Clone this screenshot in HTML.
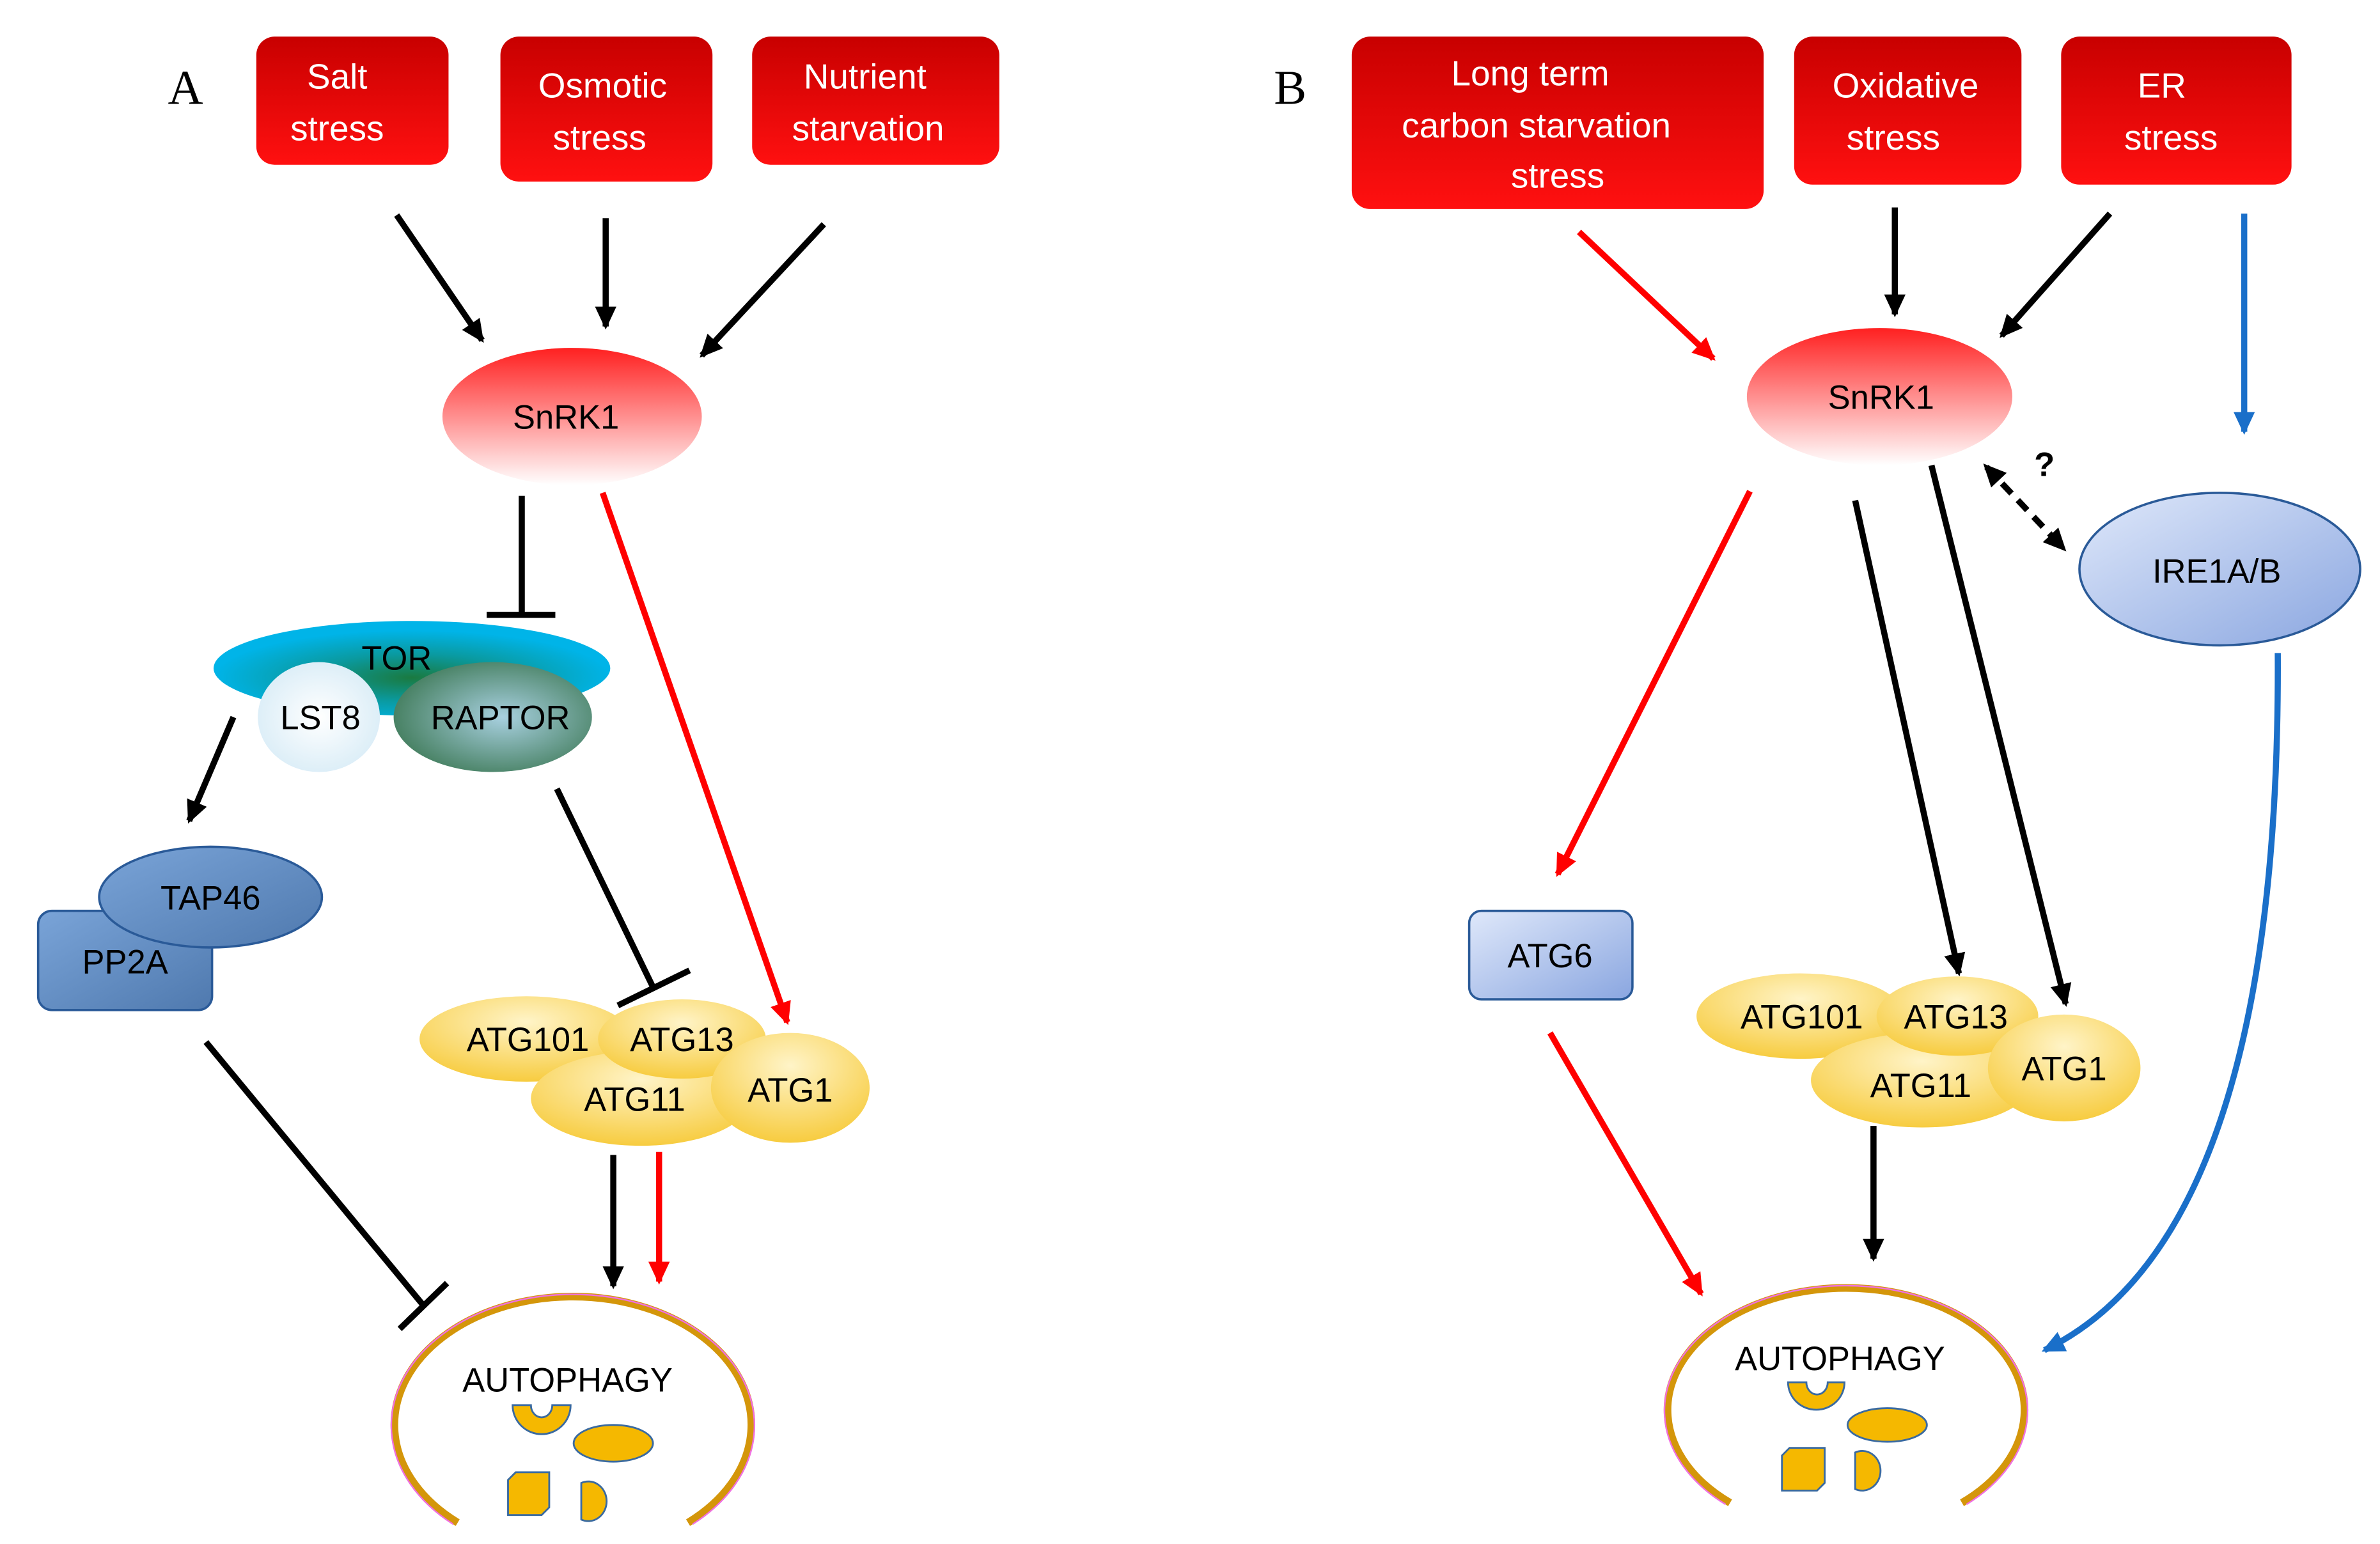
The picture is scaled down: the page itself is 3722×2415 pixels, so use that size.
<!DOCTYPE html>
<html><head><meta charset="utf-8"><style>html,body{margin:0;padding:0;background:#fff}svg{display:block}</style></head>
<body>
<svg width="3722" height="2415" viewBox="0 0 1560 1012" preserveAspectRatio="none" xmlns="http://www.w3.org/2000/svg" font-family="'Liberation Sans', 'DejaVu Sans', sans-serif">
<defs>
<linearGradient id="red" x1="0" y1="0" x2="0" y2="1"><stop offset="0" stop-color="#c80000"/><stop offset="1" stop-color="#ff1010"/></linearGradient>
<linearGradient id="snr" x1="0" y1="0" x2="0" y2="1"><stop offset="0" stop-color="#ff2020"/><stop offset="0.55" stop-color="#ff9a9a"/><stop offset="1" stop-color="#ffffff"/></linearGradient>
<radialGradient id="tor" cx="0.5" cy="0.6" r="0.5"><stop offset="0" stop-color="#1a7a40"/><stop offset="0.5" stop-color="#0a9aa0"/><stop offset="1" stop-color="#00b4e8"/></radialGradient>
<radialGradient id="lst" cx="0.5" cy="0.5" r="0.6"><stop offset="0" stop-color="#ffffff"/><stop offset="1" stop-color="#d6ebf6"/></radialGradient>
<radialGradient id="rap" cx="0.55" cy="0.5" r="0.6"><stop offset="0" stop-color="#a8d0e0"/><stop offset="1" stop-color="#3f7a58"/></radialGradient>
<linearGradient id="blue" x1="0" y1="0" x2="1" y2="1"><stop offset="0" stop-color="#7aa4d8"/><stop offset="1" stop-color="#4f79ae"/></linearGradient>
<radialGradient id="yel" cx="0.5" cy="0.3" r="0.7"><stop offset="0" stop-color="#fff4c8"/><stop offset="1" stop-color="#f7cc40"/></radialGradient>
<linearGradient id="lb" x1="0" y1="0" x2="1" y2="1"><stop offset="0" stop-color="#dfe8fa"/><stop offset="1" stop-color="#8aa6e0"/></linearGradient>
<marker id="ab" markerWidth="16" markerHeight="16" refX="13" refY="8" orient="auto" markerUnits="userSpaceOnUse"><path d="M0,1 L15,8 L0,15 Z" fill="#000"/></marker>
<marker id="ar" markerWidth="16" markerHeight="16" refX="13" refY="8" orient="auto" markerUnits="userSpaceOnUse"><path d="M0,1 L15,8 L0,15 Z" fill="#f00"/></marker>
<marker id="au" markerWidth="16" markerHeight="16" refX="13" refY="8" orient="auto" markerUnits="userSpaceOnUse"><path d="M0,1 L15,8 L0,15 Z" fill="#1a6fc9"/></marker>
<marker id="as" markerWidth="16" markerHeight="16" refX="3" refY="8" orient="auto" markerUnits="userSpaceOnUse"><path d="M15,1 L0,8 L15,15 Z" fill="#000"/></marker>
</defs>

<!-- Panel A -->
<text x="110" y="68" font-family="'Liberation Serif', serif" font-size="32">A</text>
<rect x="168" y="24" width="126" height="84" rx="12" fill="url(#red)"/>
<text x="221" y="58" font-size="23" fill="#fff" text-anchor="middle">Salt</text>
<text x="221" y="92" font-size="23" fill="#fff" text-anchor="middle">stress</text>
<rect x="328" y="24" width="139" height="95" rx="12" fill="url(#red)"/>
<text x="395" y="64" font-size="23" fill="#fff" text-anchor="middle">Osmotic</text>
<text x="393" y="98" font-size="23" fill="#fff" text-anchor="middle">stress</text>
<rect x="493" y="24" width="162" height="84" rx="12" fill="url(#red)"/>
<text x="567" y="58" font-size="23" fill="#fff" text-anchor="middle">Nutrient</text>
<text x="569" y="92" font-size="23" fill="#fff" text-anchor="middle">starvation</text>

<g stroke="#000" stroke-width="4" fill="none">
<line x1="260" y1="141" x2="316" y2="223" marker-end="url(#ab)"/>
<line x1="397" y1="143" x2="397" y2="214" marker-end="url(#ab)"/>
<line x1="540" y1="147" x2="460" y2="233" marker-end="url(#ab)"/>
<line x1="342" y1="325" x2="342" y2="403"/>
<line x1="319" y1="403" x2="364" y2="403"/>
<line x1="153" y1="470" x2="124" y2="538" marker-end="url(#ab)"/>
<line x1="365" y1="517" x2="428" y2="647"/>
<line x1="405" y1="659" x2="452" y2="636"/>
<line x1="135" y1="683" x2="277" y2="855"/>
<line x1="262" y1="871" x2="293" y2="841"/>
<line x1="402" y1="757" x2="402" y2="843" marker-end="url(#ab)"/>
</g>
<g stroke="#f00" stroke-width="4" fill="none">
<line x1="395" y1="323" x2="516" y2="670" marker-end="url(#ar)"/>
<line x1="432" y1="755" x2="432" y2="840" marker-end="url(#ar)"/>
</g>

<ellipse cx="375" cy="273" rx="85" ry="45" fill="url(#snr)"/>
<text x="371" y="281" font-size="22" text-anchor="middle">SnRK1</text>

<ellipse cx="270" cy="438" rx="130" ry="31" fill="url(#tor)"/>
<text x="260" y="439" font-size="22" text-anchor="middle">TOR</text>
<ellipse cx="209" cy="470" rx="40" ry="36" fill="url(#lst)"/>
<text x="210" y="478" font-size="22" text-anchor="middle">LST8</text>
<ellipse cx="323" cy="470" rx="65" ry="36" fill="url(#rap)"/>
<text x="328" y="478" font-size="22" text-anchor="middle">RAPTOR</text>

<rect x="25" y="597" width="114" height="65" rx="9" fill="url(#blue)" stroke="#2a5a98" stroke-width="1.5"/>
<text x="82" y="638" font-size="22" text-anchor="middle">PP2A</text>
<ellipse cx="138" cy="588" rx="73" ry="33" fill="url(#blue)" stroke="#2a5a98" stroke-width="1.5"/>
<text x="138" y="596" font-size="22" text-anchor="middle">TAP46</text>

<ellipse cx="345" cy="681" rx="70" ry="28" fill="url(#yel)"/>
<ellipse cx="420" cy="720" rx="72" ry="31" fill="url(#yel)"/>
<ellipse cx="447" cy="681" rx="55" ry="26" fill="url(#yel)"/>
<ellipse cx="518" cy="713" rx="52" ry="36" fill="url(#yel)"/>
<text x="346" y="689" font-size="22" text-anchor="middle">ATG101</text>
<text x="447" y="689" font-size="22" text-anchor="middle">ATG13</text>
<text x="416" y="728" font-size="22" text-anchor="middle">ATG11</text>
<text x="518" y="722" font-size="22" text-anchor="middle">ATG1</text>

<path d="M300,998 A117,84 0 1 1 451,998" fill="none" stroke="#d4960a" stroke-width="5"/>
<path d="M297,999 A119,86 0 1 1 454,999" fill="none" stroke="#f070e0" stroke-width="1"/>
<text x="372" y="912" font-size="22" text-anchor="middle">AUTOPHAGY</text>
<g fill="#f5b800" stroke="#3a6aa0" stroke-width="1.2">
<path d="M336,921 L348,921 A7,8 0 0 0 362,921 L374,921 A19,19 0 0 1 336,921 Z"/>
<ellipse cx="402" cy="946" rx="26" ry="12"/>
<path d="M333,970 L338,965 L360,965 L360,988 L355,993 L333,993 Z"/>
<path d="M381,972 A12,13 0 1 1 381,996 Z"/>
</g>

<!-- Panel B -->
<text x="835" y="68" font-family="'Liberation Serif', serif" font-size="32">B</text>
<rect x="886" y="24" width="270" height="113" rx="12" fill="url(#red)"/>
<text x="1003" y="56" font-size="23" fill="#fff" text-anchor="middle">Long term</text>
<text x="1007" y="90" font-size="23" fill="#fff" text-anchor="middle">carbon starvation</text>
<text x="1021" y="123" font-size="23" fill="#fff" text-anchor="middle">stress</text>
<rect x="1176" y="24" width="149" height="97" rx="12" fill="url(#red)"/>
<text x="1249" y="64" font-size="23" fill="#fff" text-anchor="middle">Oxidative</text>
<text x="1241" y="98" font-size="23" fill="#fff" text-anchor="middle">stress</text>
<rect x="1351" y="24" width="151" height="97" rx="12" fill="url(#red)"/>
<text x="1417" y="64" font-size="23" fill="#fff" text-anchor="middle">ER</text>
<text x="1423" y="98" font-size="23" fill="#fff" text-anchor="middle">stress</text>

<g stroke="#000" stroke-width="4" fill="none">
<line x1="1242" y1="136" x2="1242" y2="206" marker-end="url(#ab)"/>
<line x1="1383" y1="140" x2="1312" y2="220" marker-end="url(#ab)"/>
<line x1="1216" y1="328" x2="1284" y2="638" marker-end="url(#ab)"/>
<line x1="1266" y1="305" x2="1354" y2="658" marker-end="url(#ab)"/>
<line x1="1228" y1="738" x2="1228" y2="825" marker-end="url(#ab)"/>
<line x1="1302" y1="306" x2="1353" y2="360" stroke-dasharray="9,6" marker-start="url(#as)" marker-end="url(#ab)"/>
</g>
<text x="1340" y="312" font-size="22" font-weight="bold" text-anchor="middle">?</text>
<g stroke="#f00" stroke-width="4" fill="none">
<line x1="1035" y1="152" x2="1123" y2="235" marker-end="url(#ar)"/>
<line x1="1147" y1="322" x2="1021" y2="573" marker-end="url(#ar)"/>
<line x1="1016" y1="677" x2="1115" y2="848" marker-end="url(#ar)"/>
</g>
<g stroke="#1a6fc9" stroke-width="4" fill="none">
<line x1="1471" y1="140" x2="1471" y2="283" marker-end="url(#au)"/>
<path d="M1493,428 Q1495,810 1340,885" marker-end="url(#au)"/>
</g>

<ellipse cx="1232" cy="260" rx="87" ry="45" fill="url(#snr)"/>
<text x="1233" y="268" font-size="22" text-anchor="middle">SnRK1</text>
<ellipse cx="1455" cy="373" rx="92" ry="50" fill="url(#lb)" stroke="#2a5a98" stroke-width="1.5"/>
<text x="1453" y="382" font-size="22" text-anchor="middle">IRE1A/B</text>
<rect x="963" y="597" width="107" height="58" rx="8" fill="url(#lb)" stroke="#2a5a98" stroke-width="1.5"/>
<text x="1016" y="634" font-size="22" text-anchor="middle">ATG6</text>

<ellipse cx="1180" cy="666" rx="68" ry="28" fill="url(#yel)"/>
<ellipse cx="1260" cy="708" rx="73" ry="31" fill="url(#yel)"/>
<ellipse cx="1283" cy="666" rx="53" ry="26" fill="url(#yel)"/>
<ellipse cx="1353" cy="700" rx="50" ry="35" fill="url(#yel)"/>
<text x="1181" y="674" font-size="22" text-anchor="middle">ATG101</text>
<text x="1282" y="674" font-size="22" text-anchor="middle">ATG13</text>
<text x="1259" y="719" font-size="22" text-anchor="middle">ATG11</text>
<text x="1353" y="708" font-size="22" text-anchor="middle">ATG1</text>

<path d="M1134,985 A117,80 0 1 1 1286,985" fill="none" stroke="#d4960a" stroke-width="5"/>
<path d="M1131,986 A119,82 0 1 1 1289,986" fill="none" stroke="#f070e0" stroke-width="1"/>
<text x="1206" y="898" font-size="22" text-anchor="middle">AUTOPHAGY</text>
<g fill="#f5b800" stroke="#3a6aa0" stroke-width="1.2">
<path d="M1172,906 L1184,906 A7,8 0 0 0 1198,906 L1209,906 A18.5,18 0 0 1 1172,906 Z"/>
<ellipse cx="1237" cy="934" rx="26" ry="11"/>
<path d="M1168,954 L1173,949 L1196,949 L1196,972 L1191,977 L1168,977 Z"/>
<path d="M1216,952 A12,13 0 1 1 1216,976 Z"/>
</g>
</svg>
</body></html>
